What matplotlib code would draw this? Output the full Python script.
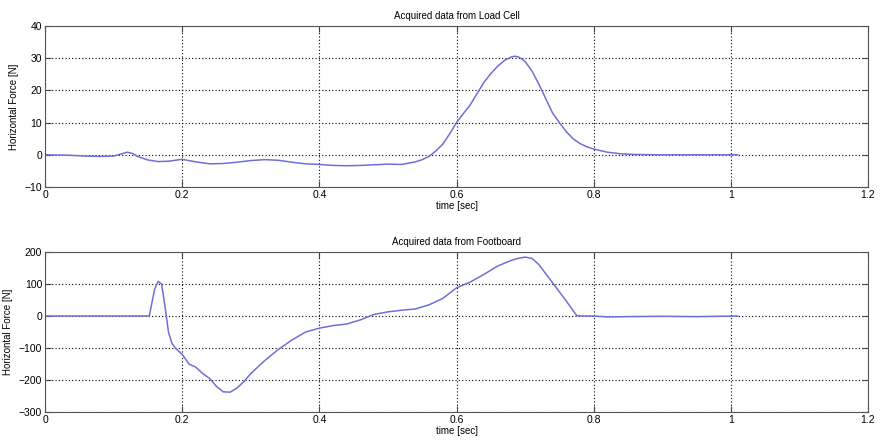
import matplotlib

matplotlib.use("Agg")
import matplotlib.pyplot as plt

# Load cell signal (time [s], force [N])
T_LOAD = [0.0, 0.03, 0.06, 0.08, 0.1, 0.11, 0.12, 0.128, 0.135, 0.15, 0.165, 0.18, 0.2,
          0.22, 0.24, 0.26, 0.28, 0.3, 0.32, 0.34, 0.36, 0.38, 0.4, 0.42, 0.44, 0.46,
          0.48, 0.5, 0.52, 0.54, 0.55, 0.56, 0.57, 0.58, 0.59, 0.6, 0.61, 0.62, 0.63,
          0.64, 0.65, 0.66, 0.67, 0.68, 0.685, 0.69, 0.695, 0.7, 0.71, 0.72, 0.73,
          0.74, 0.75, 0.76, 0.77, 0.78, 0.79, 0.8, 0.82, 0.84, 0.86, 0.9, 0.95, 1.0, 1.01]
F_LOAD = [0.0, -0.1, -0.4, -0.5, -0.4, 0.2, 0.8, 0.4, -0.5, -1.6, -2.1, -2.0, -1.4,
          -2.2, -2.8, -2.7, -2.3, -1.8, -1.5, -1.7, -2.3, -2.8, -3.0, -3.3, -3.4, -3.3,
          -3.1, -2.9, -3.0, -2.2, -1.5, -0.5, 1.2, 3.3, 6.5, 10.0, 12.8, 15.5, 19.0,
          22.5, 25.2, 27.5, 29.3, 30.4, 30.6, 30.4, 29.8, 29.0, 26.0, 22.0, 17.5,
          13.0, 10.0, 7.2, 5.0, 3.5, 2.5, 1.8, 0.8, 0.3, 0.1, 0.0, 0.0, 0.0, 0.0]

# Footboard signal
T_FOOT = [0.0, 0.1, 0.152, 0.16, 0.165, 0.17, 0.175, 0.18, 0.185, 0.19, 0.2, 0.21, 0.22,
          0.23, 0.24, 0.25, 0.26, 0.27, 0.28, 0.29, 0.3, 0.32, 0.34, 0.36, 0.38, 0.4,
          0.42, 0.44, 0.46, 0.48, 0.5, 0.52, 0.54, 0.56, 0.58, 0.6, 0.62, 0.64, 0.66,
          0.68, 0.69, 0.7, 0.71, 0.72, 0.74, 0.76, 0.775, 0.78, 0.8, 0.82, 0.85, 0.9,
          0.95, 1.01]
F_FOOT = [0.0, 0.0, 0.0, 85.0, 108.0, 100.0, 30.0, -50.0, -85.0, -100.0, -120.0, -150.0,
          -160.0, -180.0, -195.0, -220.0, -237.0, -238.0, -225.0, -205.0, -180.0, -140.0,
          -105.0, -75.0, -50.0, -38.0, -30.0, -25.0, -12.0, 5.0, 13.0, 18.0, 22.0, 35.0,
          55.0, 88.0, 106.0, 130.0, 156.0, 174.0, 180.0, 184.0, 180.0, 161.0, 104.0, 47.0,
          2.0, 0.0, 0.0, -3.0, -2.0, -1.0, -2.0, 0.0]

TITLES = ["Acquired data from Load Cell", "Acquired data from Footboard"]
YLIMS = [(-10, 40), (-300, 200)]
YTICKS = [[-10, 0, 10, 20, 30, 40], [-300, -200, -100, 0, 100, 200]]
XTICKS = [0, 0.2, 0.4, 0.6, 0.8, 1.0, 1.2]
XTICKLABELS = ["0", "0.2", "0.4", "0.6", "0.8", "1", "1.2"]

plt.rcParams["font.family"] = ["Liberation Sans", "DejaVu Sans"]
plt.rcParams["font.size"] = 7

fig = plt.figure(figsize=(8.8, 4.42), dpi=100)
axes = [fig.add_axes([45 / 880, 1 - 187 / 442, 823 / 880, 161 / 442]),
        fig.add_axes([45 / 880, 1 - 412 / 442, 823 / 880, 160 / 442])]

for ax, t, f, title, ylim, yt in zip(axes, [T_LOAD, T_FOOT], [F_LOAD, F_FOOT],
                                     TITLES, YLIMS, YTICKS):
    ax.plot(t, f, color="#6f6fd6", lw=1.1)
    ax.set_xlim(0, 1.2)
    ax.set_ylim(*ylim)
    ax.set_xticks(XTICKS)
    ax.set_xticklabels(XTICKLABELS)
    ax.set_yticks(yt)
    ax.grid(True, color="black", ls=(0, (1, 2)), lw=0.8)
    ax.tick_params(direction="in", top=True, right=True, length=4, pad=2,
                   labelsize=7.5, color="#444444")
    for s in ax.spines.values():
        s.set_color("#555555")
        s.set_linewidth(0.8)
    ax.set_title(title, fontsize=7, pad=5)
    ax.set_xlabel("time [sec]", fontsize=7, labelpad=1)
    ax.set_ylabel("Horizontal Force [N]", fontsize=7, labelpad=4)

fig.savefig("out.png", dpi=100)
